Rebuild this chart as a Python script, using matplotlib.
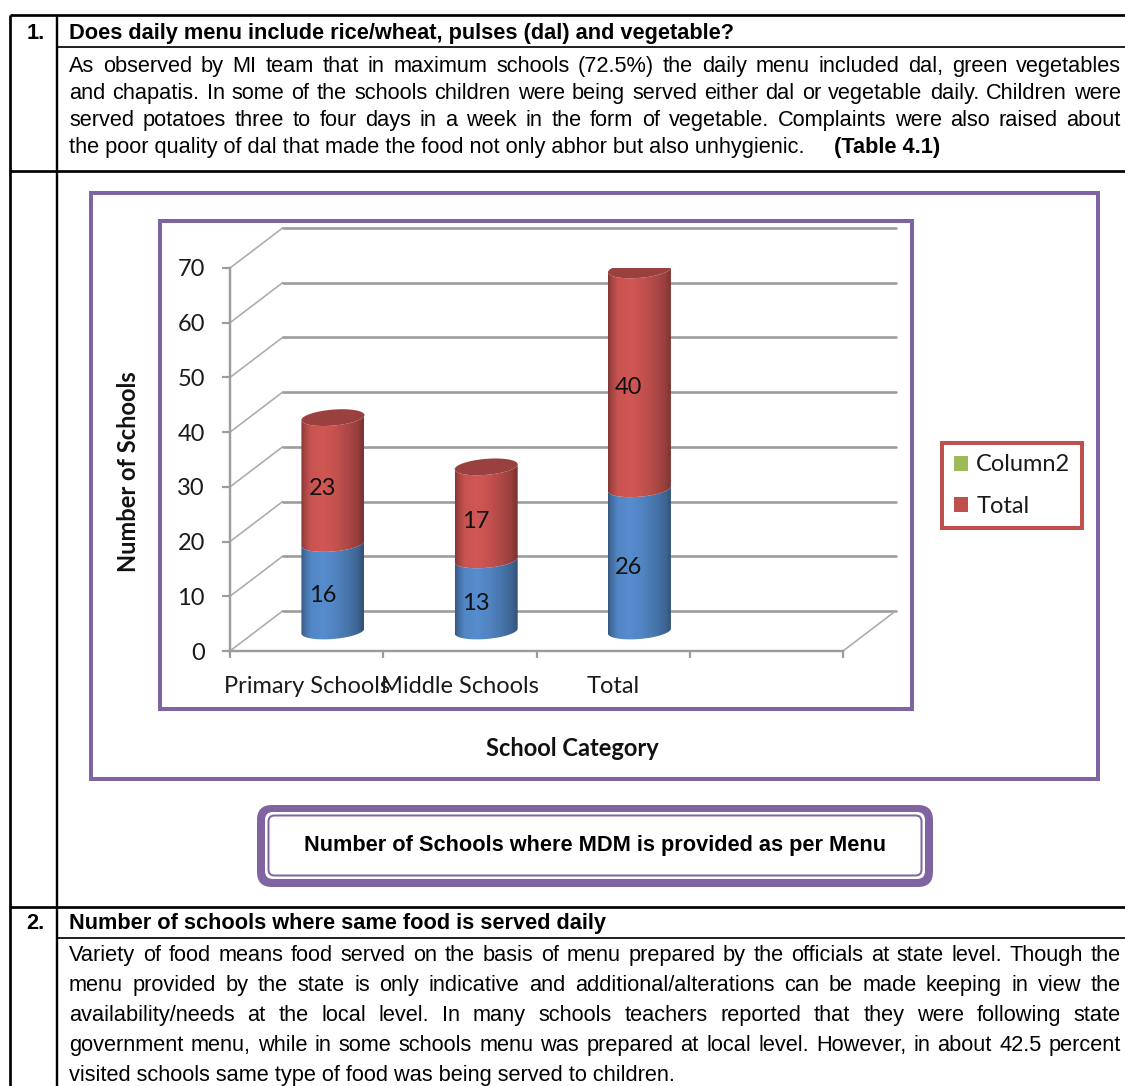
import numpy as np
import matplotlib
matplotlib.use("Agg")
import matplotlib.pyplot as plt
from matplotlib.patches import Rectangle, FancyBboxPatch, PathPatch, Patch, Polygon
from matplotlib.path import Path

# ---------------- data ----------------
categories = ["Primary Schools", "Middle Schools", "Total"]
served_lower = [16, 13, 26]      # blue segment
served_upper = [23, 17, 40]      # red segment ("Total" series)
y_ticks = [0, 10, 20, 30, 40, 50, 60, 70]
legend_labels = ["Column2", "Total"]

q1_number = "1."
q1_title = "Does daily menu include rice/wheat, pulses (dal) and vegetable?"
q1_lines = [
    "As observed by MI team that in maximum schools (72.5%) the daily menu included dal, green vegetables",
    "and chapatis. In some of the schools children were being served either dal or vegetable daily. Children were",
    "served potatoes three to four days in a week in the form of vegetable.  Complaints were also raised about",
    "the poor quality of dal that made the food not only abhor but also unhygienic.",
]
q1_note = "(Table 4.1)"
q2_number = "2."
q2_title = "Number of schools where same food is served daily"
q2_lines = [
    "Variety of food means food served on the basis of menu prepared by the officials at state level. Though the",
    "menu provided by the state is only indicative and additional/alterations can be made keeping in view the",
    "availability/needs at the local level. In many schools teachers reported that they were following state",
    "government menu, while in some schools menu was prepared at local level. However, in about 42.5 percent",
    "visited schools same type of food was being served to children.",
]
chart_caption = "Number of Schools where MDM is provided as per Menu"
y_title = "Number of Schools"
x_title = "School Category"

# ---------------- styles ----------------
W, H = 1125, 1086
PX = 72 / 100.0                      # points per pixel at dpi 100
PURPLE = "#8064A2"
RED = np.array([192, 80, 77]) / 255
BLUE = np.array([79, 129, 189]) / 255
GREEN = "#9BBB59"
GRID = "#9C9C9C"
GRID_SIDE = "#ABABAB"

plt.rcParams["font.family"] = ["Lato", "DejaVu Sans"]
BODY = dict(family=["Liberation Sans", "DejaVu Sans"], fontsize=15.7, color="black")
CHART_FS = 17

fig = plt.figure(figsize=(W / 100, H / 100), dpi=100)
fig.patch.set_facecolor("white")
page = fig.add_axes([0, 0, 1, 1], zorder=0)
page.set_xlim(0, W)
page.set_ylim(H, 0)
page.axis("off")
renderer = fig.canvas.get_renderer()


def rule(x0, y0, x1, y1, lw):
    page.plot([x0, x1], [y0, y1], color="black", lw=lw * PX, solid_capstyle="butt")


# table rules
rule(10, 15, W, 15, 2.7)
rule(10, 15, 10, H, 2.7)
rule(57, 15, 57, H, 2.4)
rule(57, 47, W, 47, 1.7)
rule(10, 171, W, 171, 2.7)
rule(10, 907, W, 907, 2.7)
rule(57, 938, W, 938, 1.7)

TX0, TX1 = 69, 1121


def text_width(t):
    return t.get_window_extent(renderer=renderer).width


def justified(line, y):
    words = line.split()
    arts = [page.text(TX0, y, w, ha="left", va="baseline", **BODY) for w in words]
    widths = [text_width(a) for a in arts]
    gap = (TX1 - TX0 - sum(widths)) / (len(words) - 1)
    x = TX0
    for a, w in zip(arts, widths):
        a.set_x(x)
        x += w + gap


# section 1
page.text(27, 39, q1_number, ha="left", va="baseline", fontweight="bold", **BODY)
page.text(TX0, 39, q1_title, ha="left", va="baseline", fontweight="bold", **BODY)
q1_base = [72, 99, 126, 153]
for line, y in zip(q1_lines[:-1], q1_base[:-1]):
    justified(line, y)
last = page.text(TX0, q1_base[-1], q1_lines[-1], ha="left", va="baseline", **BODY)
page.text(TX0 + text_width(last) + 29, q1_base[-1], q1_note, ha="left",
          va="baseline", fontweight="bold", **BODY)

# section 2
page.text(26, 929, q2_number, ha="left", va="baseline", fontweight="bold", **BODY)
page.text(TX0, 929, q2_title, ha="left", va="baseline", fontweight="bold", **BODY)
q2_base = [961, 991, 1021, 1051, 1081]
for line, y in zip(q2_lines[:-1], q2_base[:-1]):
    justified(line, y)
page.text(TX0, q2_base[-1], q2_lines[-1], ha="left", va="baseline", **BODY)

# chart frames
page.add_patch(Rectangle((91, 193), 1098 - 91, 779 - 193, fill=False,
                         ec=PURPLE, lw=4 * PX))
page.add_patch(Rectangle((160, 221), 912 - 160, 709 - 221, fill=False,
                         ec=PURPLE, lw=4 * PX))

# caption box with double border
page.add_patch(FancyBboxPatch((257, 805), 676, 82, boxstyle="round,pad=0,rounding_size=15",
                              fc=PURPLE, ec="none"))
page.add_patch(FancyBboxPatch((265, 812), 660, 67, boxstyle="round,pad=0,rounding_size=8",
                              fc="white", ec="none"))
page.add_patch(FancyBboxPatch((268.5, 815.5), 653, 60, boxstyle="round,pad=0,rounding_size=6",
                              fc="none", ec=PURPLE, lw=2 * PX))
page.text(595, 851, chart_caption, ha="center", va="baseline", fontweight="bold", **BODY)

# axis titles
page.text(128, 472, y_title, rotation=90, ha="center", va="center",
          fontweight="bold", fontsize=CHART_FS, color="#111111")
page.text(572, 748, x_title, ha="center", va="center",
          fontweight="bold", fontsize=CHART_FS, color="#111111")

# ---------------- chart ----------------
n_slots = len(categories) + 1
ax_l, ax_r, ax_b, ax_t = 230, 843, 651, 268          # pixel frame of the front axes
ax = fig.add_axes([ax_l / W, 1 - ax_b / H, (ax_r - ax_l) / W, (ax_b - ax_t) / H], zorder=2)
ax.patch.set_alpha(0)
ymax = y_ticks[-1]
px_x = (ax_r - ax_l) / n_slots
px_y = (ax_b - ax_t) / ymax
DX = 52.6 / px_x          # depth offset of the back wall, data units
DY = 40.0 / px_y
RX = 31.5 / px_x          # cylinder radius
RY = 8.0 / px_y           # ellipse half-height
TILT = 2.5 / px_y         # perspective tilt of the ellipses


def set_limits():
    ax.set_xlim(0, n_slots)
    ax.set_ylim(0, ymax)
    ax.set_aspect("auto")


set_limits()

# walls and gridlines
for v in y_ticks:
    ax.plot([0, DX], [v, v + DY], color=GRID_SIDE, lw=1.6 * PX, clip_on=False, zorder=1)
    ax.plot([DX, n_slots + DX], [v + DY, v + DY], color=GRID, lw=2.6 * PX,
            clip_on=False, zorder=1, solid_capstyle="round")
ax.plot([n_slots, n_slots + DX], [0, DY], color=GRID_SIDE, lw=1.6 * PX, clip_on=False, zorder=1)

for s in ("top", "right"):
    ax.spines[s].set_visible(False)
for s in ("left", "bottom"):
    ax.spines[s].set_color(GRID)
    ax.spines[s].set_linewidth(2.4 * PX)

ax.set_yticks(y_ticks)
ax.set_yticklabels([str(v) for v in y_ticks])
ax.tick_params(axis="y", length=8 * PX, width=2.2 * PX, color=GRID, pad=17 * PX,
               labelsize=CHART_FS, labelcolor="#1a1a1a")
ax.set_xticks(np.arange(n_slots + 1))
ax.set_xticklabels([""] * (n_slots + 1))
ax.set_xticks(np.arange(len(categories)) + 0.5, minor=True)
ax.set_xticklabels(categories, minor=True)
ax.tick_params(axis="x", which="major", length=7 * PX, width=2.2 * PX, color=GRID)
ax.tick_params(axis="x", which="minor", length=0, pad=25 * PX,
               labelsize=CHART_FS, labelcolor="#1a1a1a")

prof_t = [0.0, 0.04, 0.15, 0.35, 0.55, 0.75, 0.9, 1.0]
prof_m = [0.66, 0.82, 1.04, 1.09, 1.02, 0.90, 0.78, 0.62]


def ellipse_pts(cx, v, t):
    vc = v + DY / 2
    x = cx + RX * np.cos(t)
    y = vc + RY * np.sin(t) + TILT * np.cos(t)
    return x, y


def cylinder_part(cx, v0, v1, base, cap):
    t = np.linspace(np.pi, 2 * np.pi, 80)
    xb, yb = ellipse_pts(cx, v0, t)
    xt, yt = ellipse_pts(cx, v1, t[::-1])
    verts = np.vstack([np.column_stack([xb, yb]), np.column_stack([xt, yt]), [[xb[0], yb[0]]]])
    codes = [Path.MOVETO] + [Path.LINETO] * (len(verts) - 2) + [Path.CLOSEPOLY]
    body = PathPatch(Path(verts, codes), fc="none", ec="none")
    ax.add_patch(body)
    u = np.linspace(0, 1, 256)
    m = np.interp(u, prof_t, prof_m)
    img = np.clip(base[None, None, :] * m[None, :, None], 0, 1)
    im = ax.imshow(img, extent=[cx - RX, cx + RX, v0 + DY / 2 - RY - TILT - 0.5,
                                v1 + DY / 2 + RY + TILT + 0.5],
                   origin="lower", aspect="auto", interpolation="bilinear", zorder=3)
    im.set_clip_path(body)
    if cap:
        tt = np.linspace(0, 2 * np.pi, 120)
        xc, yc = ellipse_pts(cx, v1, tt)
        ax.add_patch(Polygon(np.column_stack([xc, yc]), closed=True,
                             fc=np.clip(base * 0.80, 0, 1), ec="none", zorder=4))


for k, (lo, up) in enumerate(zip(served_lower, served_upper)):
    cx = k + 0.5 + DX / 2
    cylinder_part(cx, 0, lo, BLUE, cap=False)
    cylinder_part(cx, lo, lo + up, RED, cap=True)
    lx = k + 0.5 + 0.3 * DX
    ax.text(lx, lo / 2 + 0.3 * DY, str(lo), ha="center", va="center",
            fontsize=CHART_FS, color="#111111", zorder=6)
    ax.text(lx, lo + up / 2 + 0.3 * DY, str(up), ha="center", va="center",
            fontsize=CHART_FS, color="#111111", zorder=6)

set_limits()

handles = [Patch(facecolor=GREEN, edgecolor="none"),
           Patch(facecolor=RED, edgecolor="none")]
leg = ax.legend(handles, legend_labels, loc="center",
                bbox_to_anchor=(1012 / W, 1 - 485.5 / H), bbox_transform=fig.transFigure,
                frameon=True, fancybox=False, framealpha=1, fontsize=CHART_FS,
                handlelength=0.6, handleheight=0.6, handletextpad=0.35,
                labelspacing=0.85, borderpad=0.5, borderaxespad=0)
leg.get_frame().set_edgecolor("#C0504D")
leg.get_frame().set_linewidth(4 * PX)
for txt in leg.get_texts():
    txt.set_color("#1a1a1a")

fig.savefig("out.png", dpi=100, facecolor="white")
